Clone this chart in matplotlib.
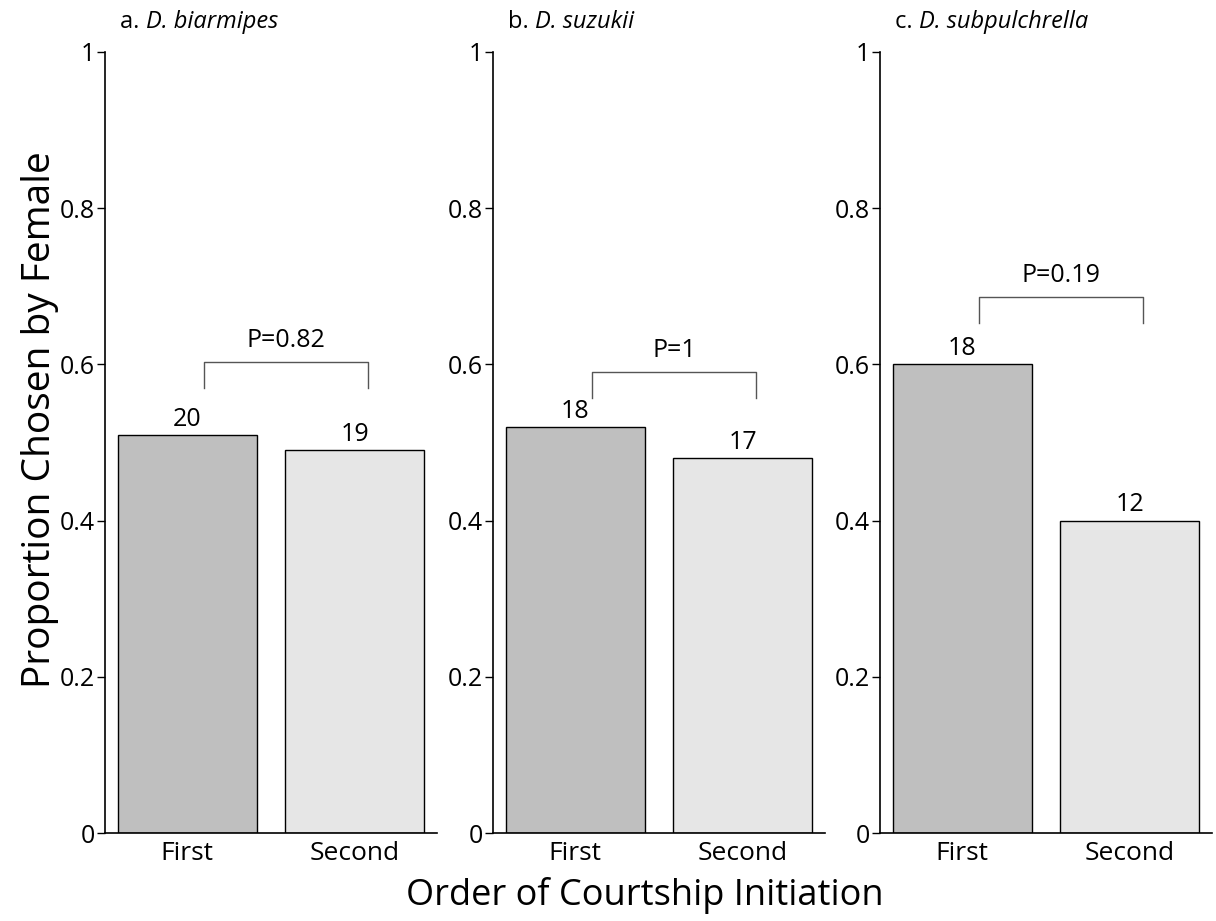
import matplotlib
matplotlib.use("Agg")
import matplotlib.pyplot as plt

plt.rcParams['font.family'] = ['Open Sans', 'DejaVu Sans']

# data
panel_letters = ["a.", "b.", "c."]
species = ["D. biarmipes", "D. suzukii", "D. subpulchrella"]
categories = ["First", "Second"]
first_vals = [0.51, 0.52, 0.60]
second_vals = [0.49, 0.48, 0.40]
first_n = [20, 18, 18]
second_n = [19, 17, 12]
p_values = ["P=0.82", "P=1", "P=0.19"]
bracket_top = [0.603, 0.59, 0.686]
bracket_drop = 0.033
yticks = [0, 0.2, 0.4, 0.6, 0.8, 1]
ytick_labels = ["0", "0.2", "0.4", "0.6", "0.8", "1"]

fig = plt.figure(figsize=(12.16, 9.21), dpi=100)
W, H = 1216, 921
lefts = [105, 493, 880]
ax_w = 332
top_px, bot_px = 52, 833

renderer = fig.canvas.get_renderer()

for i in range(3):
    ax = fig.add_axes([lefts[i] / W, (H - bot_px) / H, ax_w / W, (bot_px - top_px) / H])
    ax.bar([0, 1], [first_vals[i], second_vals[i]], width=0.83,
           color=["#bfbfbf", "#e6e6e6"], edgecolor="black", linewidth=1.0)
    ax.set_xlim(-0.49, 1.49)
    ax.set_ylim(0, 1)
    ax.set_yticks(yticks)
    ax.set_yticklabels(ytick_labels)
    ax.set_xticks([0, 1])
    ax.set_xticklabels(categories)
    ax.tick_params(axis='y', length=6, width=1, labelsize=18, pad=1)
    ax.tick_params(axis='x', length=0, labelsize=19, pad=6)
    ax.spines['top'].set_visible(False)
    ax.spines['right'].set_visible(False)
    ax.spines['left'].set_linewidth(1.2)
    ax.spines['bottom'].set_linewidth(1.2)

    # counts above bars
    ax.text(0, first_vals[i] + 0.004, str(first_n[i]), ha='center', va='bottom', fontsize=18)
    ax.text(1, second_vals[i] + 0.004, str(second_n[i]), ha='center', va='bottom', fontsize=18)

    # significance bracket
    bx0, bx1 = 0.1, 1.08
    top = bracket_top[i]
    ax.plot([bx0, bx0, bx1, bx1], [top - bracket_drop, top, top, top - bracket_drop],
            color="#555555", linewidth=1.0)
    ax.text((bx0 + bx1) / 2, top + 0.012, p_values[i], ha='center', va='bottom', fontsize=18)

    # panel title: letter upright, species in italics
    t = fig.text((lefts[i] + 15) / W, 1 - 22 / H, panel_letters[i] + " ",
                 ha='left', va='center', fontsize=17)
    bb = t.get_window_extent(renderer=renderer)
    fig.text(bb.x1 / W, 1 - 22 / H, species[i], style='italic',
             ha='left', va='center', fontsize=17)

fig.text(40 / W, 1 - 420 / H, "Proportion Chosen by Female", rotation=90,
         ha='center', va='center', fontsize=28)
fig.text(645 / W, 1 - 895 / H, "Order of Courtship Initiation",
         ha='center', va='center', fontsize=26)

fig.savefig("out.png", dpi=100)
